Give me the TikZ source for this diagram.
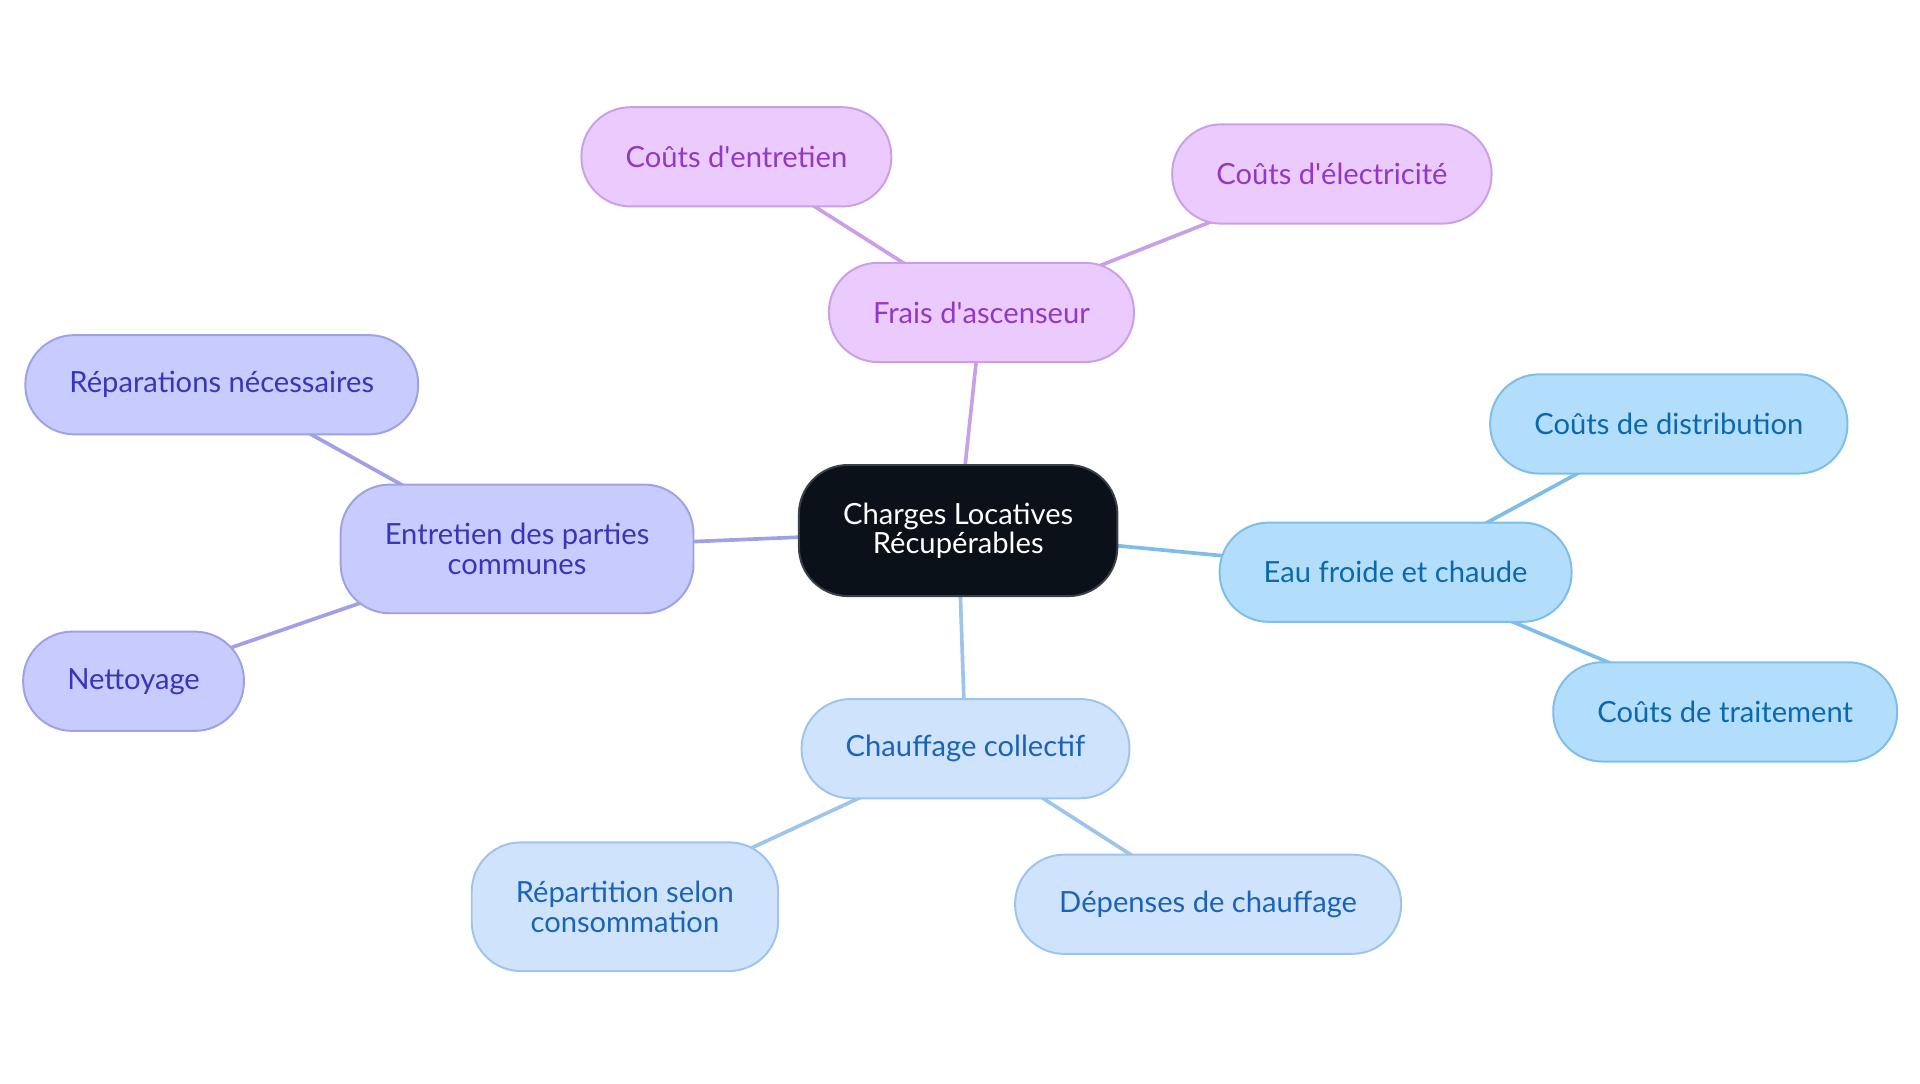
\documentclass[tikz,border=0pt]{standalone}
\usepackage{fontspec}
\setmainfont{Lato}
\usetikzlibrary{backgrounds}
\definecolor{rootfill}{HTML}{0B1118}
\definecolor{rootline}{HTML}{3A4048}
\definecolor{lilafill}{HTML}{EBCBFD}
\definecolor{lilaline}{HTML}{C9A0E8}
\definecolor{lilatext}{HTML}{9238C4}
\definecolor{indigofill}{HTML}{C8CBFD}
\definecolor{indigoline}{HTML}{A0A0E6}
\definecolor{indigotext}{HTML}{3A34B8}
\definecolor{skyfill}{HTML}{B3DEFB}
\definecolor{skyline}{HTML}{7DBDE8}
\definecolor{skytext}{HTML}{0A69AE}
\definecolor{palefill}{HTML}{CFE4FC}
\definecolor{paleline}{HTML}{9EC4EC}
\definecolor{paletext}{HTML}{1A64B8}
\tikzset{
  mapnode/.style={draw, line width=0.8pt, rounded corners=20pt, align=center,
    inner xsep=18pt, inner ysep=6pt, minimum height=40.5pt,
    font=\fontsize{11.9}{12}\selectfont},
  rootnode/.style={mapnode, fill=rootfill, draw=rootline, text=white, minimum height=53.5pt},
  lilanode/.style={mapnode, fill=lilafill, draw=lilaline, text=lilatext},
  indigonode/.style={mapnode, fill=indigofill, draw=indigoline, text=indigotext},
  skynode/.style={mapnode, fill=skyfill, draw=skyline, text=skytext},
  palenode/.style={mapnode, fill=palefill, draw=paleline, text=paletext},
  link/.style={line width=1.5pt},
}
\begin{document}
\begin{tikzpicture}[x=0.5pt,y=-0.5pt]
  \useasboundingbox (0,0) rectangle (1567,884);
  %% centre
  \node[rootnode] (root) at (782,433) {Charges Locatives\\Récupérables};
  %% ascenseur
  \node[lilanode] (frais) at (801,255) {Frais d\textquotesingle ascenseur};
  \node[lilanode] (entr) at (601,128) {Coûts d\textquotesingle entretien};
  \node[lilanode] (elec) at (1087,142) {Coûts d\textquotesingle électricité};
  %% parties communes
  \node[indigonode, minimum height=52.5pt] (comm) at (422,448) {Entretien des parties\\communes};
  \node[indigonode] (repa) at (181,314) {Réparations nécessaires};
  \node[indigonode] (nett) at (109,556) {Nettoyage};
  %% eau
  \node[skynode] (eau) at (1139,467) {Eau froide et chaude};
  \node[skynode] (dist) at (1362,346) {Coûts de distribution};
  \node[skynode] (trait) at (1408,581) {Coûts de traitement};
  %% chauffage
  \node[palenode] (chauf) at (788,611) {Chauffage collectif};
  \node[palenode, minimum height=52.5pt] (conso) at (510,740) {Répartition selon\\consommation};
  \node[palenode] (dep) at (986,738) {Dépenses de chauffage};
  %% links
  \begin{pgfonlayer}{background}
    \draw[link, lilaline] (root.center) -- (frais.center);
    \draw[link, lilaline] (frais.center) -- (entr.center);
    \draw[link, lilaline] (frais.center) -- (elec.center);
    \draw[link, indigoline] (root.center) -- (comm.center);
    \draw[link, indigoline] (comm.center) -- (repa.center);
    \draw[link, indigoline] (comm.center) -- (nett.center);
    \draw[link, skyline] (root.center) -- (eau.center);
    \draw[link, skyline] (eau.center) -- (dist.center);
    \draw[link, skyline] (eau.center) -- (trait.center);
    \draw[link, paleline] (root.center) -- (chauf.center);
    \draw[link, paleline] (chauf.center) -- (conso.center);
    \draw[link, paleline] (chauf.center) -- (dep.center);
  \end{pgfonlayer}
\end{tikzpicture}
\end{document}
